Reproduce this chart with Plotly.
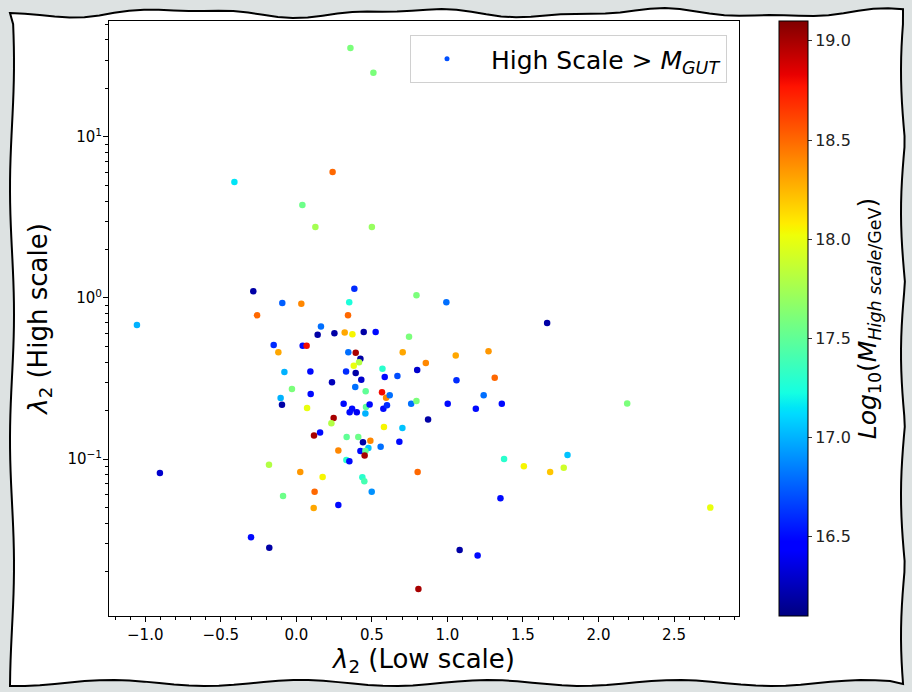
import math
import plotly.graph_objects as go

# ---------------- data ----------------
lambda2_low = [
    0.358, 0.51, -0.41, 0.24, 0.04, 0.126, 0.50, -0.285, -0.093, 0.033,
    0.384, 0.35, 0.795, 0.993, -0.26, 0.342, -1.055, 0.163, 0.141, 0.252,
    0.32, 0.371, 0.446, 0.525, 0.746, -0.15, 0.042, 0.068, -0.119, 0.344,
    0.393, 0.704, 0.857, 0.424, 0.415, 0.38, -0.079, 0.093, 0.329, 0.393,
    0.57, 0.585, 0.669, 0.8, 0.236, 0.43, -0.029, 0.39, 0.459, 0.567,
    0.594, 0.618, -0.104, 0.095, -0.095, 0.071, 0.313, 0.369, 0.353, 0.4,
    0.457, 0.461, 0.485, 0.576, 0.6, 0.76, 0.795, 0.872, 0.247, 0.232,
    0.58, 0.702, 0.117, 0.157, 0.333, 0.41, 0.441, 0.49, 0.558, 0.682,
    0.278, 0.424, 0.477, 0.457, 0.452, 0.331, 0.351, 0.803, -0.181, -0.903,
    0.026, 0.174, 0.437, 0.45, 0.121, -0.088, 0.499, 0.115, 0.278, -0.3,
    -0.179, 0.808, 1.66, 1.055, 1.272, 1.06, 1.313, 1.24, 1.002, 1.188,
    1.36, 2.19, 1.375, 1.795, 1.506, 1.68, 1.77, 1.351, 1.081, 1.2,
    2.74,
]
lambda2_high = [
    35.7, 25.0, 5.25, 6.06, 3.78, 2.76, 2.76, 1.10, 0.93, 0.92,
    1.14, 0.94, 1.04, 0.94, 0.78, 0.78, 0.68, 0.664, 0.59, 0.603,
    0.61, 0.595, 0.615, 0.615, 0.575, 0.51, 0.505, 0.505, 0.46, 0.46,
    0.457, 0.46, 0.395, 0.42, 0.399, 0.38, 0.347, 0.35, 0.35, 0.342,
    0.364, 0.323, 0.328, 0.357, 0.30, 0.31, 0.272, 0.28, 0.263, 0.26,
    0.24, 0.249, 0.239, 0.253, 0.217, 0.207, 0.22, 0.205, 0.195, 0.195,
    0.192, 0.21, 0.218, 0.205, 0.216, 0.22, 0.229, 0.176, 0.18, 0.167,
    0.158, 0.156, 0.14, 0.146, 0.137, 0.137, 0.127, 0.13, 0.119, 0.128,
    0.113, 0.112, 0.117, 0.112, 0.105, 0.0986, 0.097, 0.083, 0.092, 0.082,
    0.083, 0.0773, 0.077, 0.0727, 0.0627, 0.059, 0.0627, 0.0496, 0.0518, 0.0327,
    0.0281, 0.0156, 0.70, 0.44, 0.466, 0.308, 0.32, 0.249, 0.22, 0.205,
    0.22, 0.221, 0.10, 0.106, 0.09, 0.083, 0.0883, 0.057, 0.0272, 0.0252,
    0.0499,
]
log10_m_high = [
    17.6, 17.6, 17.15, 18.5, 17.55, 17.75, 17.7, 16.2, 16.75, 18.4,
    16.6, 17.25, 17.6, 16.8, 18.5, 18.5, 17.0, 16.8, 16.2, 16.2,
    18.3, 18.05, 16.2, 16.5, 17.6, 16.6, 16.5, 18.8, 18.3, 16.8,
    19.0, 18.3, 18.4, 16.2, 17.8, 18.0, 17.0, 16.5, 16.6, 16.2,
    17.3, 16.5, 16.7, 16.3, 16.25, 16.3, 17.6, 16.8, 17.5, 18.8,
    18.4, 16.8, 17.0, 16.5, 16.2, 18.0, 16.5, 16.5, 16.5, 16.4,
    17.0, 17.5, 16.5, 16.5, 16.6, 16.8, 17.6, 16.2, 19.0, 17.8,
    18.05, 17.05, 19.0, 16.5, 17.5, 17.55, 16.2, 18.4, 16.8, 16.5,
    18.4, 16.5, 17.05, 17.5, 19.0, 17.3, 16.5, 18.5, 17.8, 16.3,
    18.35, 18.05, 17.3, 17.4, 18.5, 17.55, 16.9, 18.3, 16.5, 16.5,
    16.2, 19.0, 16.2, 18.3, 18.35, 16.6, 18.5, 16.8, 16.5, 16.5,
    16.5, 17.6, 17.3, 17.05, 18.05, 18.2, 17.9, 16.5, 16.2, 16.5,
    18.0,
]
x_tick_vals = [-1.0, -0.5, 0.0, 0.5, 1.0, 1.5, 2.0, 2.5]
x_tick_text = ["\u22121.0", "\u22120.5", "0.0", "0.5", "1.0", "1.5", "2.0", "2.5"]
y_tick_vals = [0.1, 1, 10]
y_tick_text = ["10<sup>\u22121</sup>", "10<sup>0</sup>", "10<sup>1</sup>"]
y_minor_vals = [m * d for d in (0.01, 0.1, 1, 10) for m in range(2, 10)]
cbar_tick_vals = [16.5, 17.0, 17.5, 18.0, 18.5, 19.0]
cbar_tick_text = ["16.5", "17.0", "17.5", "18.0", "18.5", "19.0"]

# ---------------- layout geometry ----------------
W, H = 912, 692
ML, MR, MT, MB = 109, 173, 21, 76
PW, PH = W - ML - MR, H - MT - MB
FONT = "DejaVu Sans"
Y_RANGE = [-1.975, 1.72]


def jet(t):
    def seg(pts):
        for (a, va), (b, vb) in zip(pts, pts[1:]):
            if a <= t <= b:
                return va + (vb - va) * (t - a) / (b - a) if b > a else vb
        return pts[-1][1]
    r = seg([(0, 0), (0.35, 0), (0.66, 1), (0.89, 1), (1, 0.5)])
    g = seg([(0, 0), (0.125, 0), (0.375, 1), (0.64, 1), (0.91, 0), (1, 0)])
    b = seg([(0, 0.5), (0.11, 1), (0.34, 1), (0.65, 0), (1, 0)])
    return "rgb(%d,%d,%d)" % (round(r * 255), round(g * 255), round(b * 255))


stops = [0, 0.11, 0.125, 0.2, 0.34, 0.35, 0.375, 0.5, 0.64, 0.65, 0.66, 0.75, 0.89, 0.91, 1]
jet_scale = [[s, jet(s)] for s in stops]


def px2paper(px, py):
    return (px - ML) / PW, 1 - (py - MT) / PH


# wavy sketch frame (decoration)
pts = []
n = 60
for i in range(n + 1):
    x = 10 + (903 - 10) * i / n
    pts.append((x, 13 + 3.5 * math.sin(x / 38.0) - 1.5 * math.sin(x / 17.0)))
for i in range(1, n + 1):
    y = 13 + (684 - 13) * i / n
    pts.append((905 - 4 * abs(math.sin(y / 45.0)), y))
for i in range(1, n + 1):
    x = 905 - (905 - 10) * i / n
    pts.append((x, 683 + 3 * math.sin(x / 30.0 + 1)))
for i in range(1, n):
    y = 683 - (683 - 13) * i / n
    pts.append((12 + 2.0 * math.sin(y / 40.0), y))
path = ""
for k, (x, y) in enumerate(pts):
    a, b = px2paper(x, y)
    path += ("M" if k == 0 else "L") + "%.5f,%.5f " % (a, b)
path += "Z"

fig = go.Figure()
fig.add_trace(go.Scatter(
    x=lambda2_low, y=lambda2_high, mode="markers", showlegend=False,
    marker=dict(size=6.5, color=log10_m_high, colorscale=jet_scale,
                cmin=16.1, cmax=19.1, line=dict(width=0),
                colorbar=dict(
                    x=779 / W, xref="container", xanchor="left", xpad=0, ypad=0,
                    y=0.5, yref="paper", yanchor="middle", len=1, lenmode="fraction",
                    thickness=29, outlinecolor="black", outlinewidth=1,
                    tickvals=cbar_tick_vals, ticktext=cbar_tick_text,
                    ticks="outside", ticklen=4, tickcolor="#333",
                    tickfont=dict(family=FONT, size=16, color="#222"),
                    title=dict(text="<i>Log</i><sub>10</sub>(<i>M</i><sub><i>High scale</i>/GeV</sub>)",
                               side="right", font=dict(family=FONT, size=25, color="black")),
                ))))
fig.add_trace(go.Scatter(
    x=[None], y=[None], mode="markers", name=" High Scale > <i>M</i><sub><i>GUT</i></sub>",
    marker=dict(size=5, color="#0050ff")))
# invisible trace so the overlay axis carrying the longer major ticks is drawn
fig.add_trace(go.Scatter(x=[None], y=[None], yaxis="y2", showlegend=False,
                         mode="markers", hoverinfo="skip"))

fig.update_layout(
    width=W, height=H,
    margin=dict(l=ML, r=MR, t=MT, b=MB),
    paper_bgcolor="#dde2e2", plot_bgcolor="white",
    font=dict(family=FONT, color="black"),
    shapes=[dict(type="path", xref="paper", yref="paper", path=path,
                 fillcolor="white", line=dict(color="black", width=2), layer="below")],
    legend=dict(x=(727 - ML) / PW, xanchor="right", y=1 - (35 - MT) / PH, yanchor="top",
                bgcolor="white", bordercolor="#d0d0d0", borderwidth=1,
                font=dict(family=FONT, size=25), itemwidth=62),
    xaxis=dict(range=[-1.24, 2.93], showgrid=False, zeroline=False,
               showline=True, linecolor="black", linewidth=1, mirror=True,
               ticks="outside", ticklen=5, tickcolor="black",
               tickvals=x_tick_vals, ticktext=x_tick_text,
               tickfont=dict(family=FONT, size=15),
               minor=dict(ticks="outside", ticklen=3, tickcolor="black", dtick=0.1, showgrid=False),
               title=dict(text="<i>\u03bb</i><sub>2</sub> (Low scale)", standoff=3,
                          font=dict(family=FONT, size=26))),
    yaxis=dict(type="log", range=Y_RANGE, showgrid=False, zeroline=False,
               showline=True, linecolor="black", linewidth=1, mirror=True,
               ticks="outside", ticklen=3, tickcolor="black",
               tickvals=y_tick_vals + y_minor_vals,
               ticktext=y_tick_text + [""] * len(y_minor_vals),
               tickfont=dict(family=FONT, size=15),
               title=dict(text="<i>\u03bb</i><sub>2</sub> (High scale)", standoff=12,
                          font=dict(family=FONT, size=26))),
    yaxis2=dict(type="log", range=Y_RANGE, overlaying="y", side="left", anchor="x",
                showgrid=False, zeroline=False, showline=False,
                ticks="outside", ticklen=5, tickcolor="black",
                tickvals=y_tick_vals, showticklabels=False),
)

fig.write_html("out.html")
